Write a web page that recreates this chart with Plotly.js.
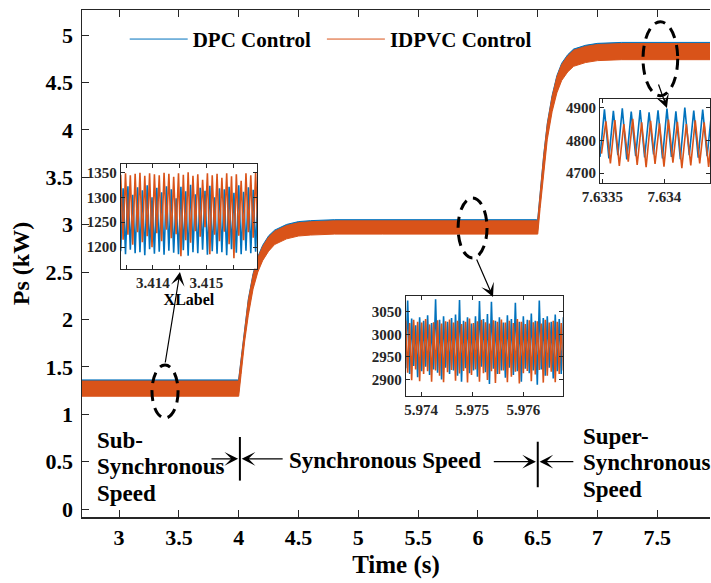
<!DOCTYPE html>
<html>
<head>
<meta charset="utf-8">
<script src="https://cdn.plot.ly/plotly-3.0.1.min.js"></script>
<style>
  html, body { margin: 0; padding: 0; background: #fff; }
  #chart { width: 711px; height: 583px; }
</style>
</head>
<body>
<div id="chart"></div>
<script>
// ---- Stator active power Ps (kW): ripple envelope of each controller ----
const tEnv   = [2.69, 3.99, 4.00, 4.02, 4.05, 4.08, 4.12, 4.16, 4.20, 4.25, 4.30, 4.40, 4.50, 4.60, 4.80, 5.20,
                6.49, 6.50, 6.52, 6.55, 6.58, 6.62, 6.66, 6.70, 6.75, 6.80, 6.90, 7.00, 7.20, 7.94];
const dpcHi  = [1.362, 1.362, 1.372, 1.592, 1.942, 2.212, 2.482, 2.662, 2.782, 2.882, 2.942, 3.002, 3.032, 3.042, 3.052, 3.052,
                3.052, 3.062, 3.342, 3.742, 4.072, 4.362, 4.572, 4.702, 4.792, 4.852, 4.892, 4.912, 4.922, 4.922];
const dpcLo  = [1.20, 1.20, 1.20, 1.43, 1.78, 2.05, 2.33, 2.51, 2.63, 2.73, 2.80, 2.86, 2.89, 2.90, 2.91, 2.91,
                2.91, 2.91, 3.18, 3.58, 3.91, 4.20, 4.40, 4.53, 4.62, 4.68, 4.72, 4.74, 4.75, 4.75];
const idpvcHi = [1.35, 1.35, 1.36, 1.58, 1.93, 2.20, 2.47, 2.65, 2.77, 2.87, 2.93, 2.99, 3.02, 3.03, 3.04, 3.04,
                 3.04, 3.05, 3.33, 3.73, 4.06, 4.35, 4.56, 4.69, 4.78, 4.84, 4.88, 4.90, 4.91, 4.91];
const idpvcLo = [1.19, 1.19, 1.19, 1.42, 1.77, 2.04, 2.32, 2.50, 2.62, 2.72, 2.79, 2.85, 2.88, 2.89, 2.90, 2.90,
                 2.90, 2.90, 3.17, 3.57, 3.90, 4.19, 4.39, 4.52, 4.61, 4.67, 4.71, 4.73, 4.74, 4.74];

// ---- Zoom 1: sub-synchronous ripple around t = 3.414 s (W) ----
const tZoom1 = [3.413400, 3.413445, 3.413490, 3.413535, 3.413580, 3.413625, 3.413670, 3.413715, 3.413760, 3.413805,
                3.413850, 3.413895, 3.413940, 3.413985, 3.414030, 3.414075, 3.414120, 3.414165, 3.414210, 3.414255,
                3.414300, 3.414345, 3.414390, 3.414435, 3.414480, 3.414525, 3.414570, 3.414615, 3.414660, 3.414705,
                3.414750, 3.414795, 3.414840, 3.414885, 3.414930, 3.414975, 3.415020, 3.415065, 3.415110, 3.415155,
                3.415200, 3.415245, 3.415290, 3.415335, 3.415380, 3.415425, 3.415470, 3.415515, 3.415560, 3.415605,
                3.415650, 3.415695, 3.415740, 3.415785, 3.415830, 3.415875, 3.415920, 3.415965];
const dpcZoom1 = [1192, 1318, 1186, 1322, 1195, 1305, 1188, 1320, 1190, 1314, 1184, 1324, 1196, 1300, 1187, 1319,
                  1191, 1310, 1185, 1322, 1193, 1316, 1189, 1298, 1186, 1321, 1194, 1312, 1183, 1325, 1190, 1306,
                  1188, 1319, 1195, 1313, 1185, 1323, 1192, 1300, 1187, 1318, 1190, 1316, 1184, 1321, 1196, 1309,
                  1189, 1324, 1186, 1311, 1193, 1320, 1188, 1315, 1191, 1319];
const idpvcZoom1 = [1345, 1215, 1348, 1225, 1344, 1205, 1347, 1230, 1349, 1210, 1343, 1222, 1348, 1200, 1346, 1228,
                    1344, 1212, 1349, 1235, 1347, 1218, 1341, 1226, 1348, 1182, 1345, 1214, 1350, 1209, 1343, 1232,
                    1346, 1221, 1335, 1240, 1348, 1186, 1344, 1225, 1347, 1212, 1339, 1231, 1348, 1206, 1342, 1178,
                    1346, 1223, 1333, 1214, 1348, 1230, 1344, 1219, 1349, 1227];

// ---- Zoom 2: synchronous ripple around t = 5.975 s (W) ----
const tZoom2 = [5.973700, 5.973739, 5.973778, 5.973817, 5.973856, 5.973895, 5.973934, 5.973973, 5.974012, 5.974051,
                5.974090, 5.974129, 5.974168, 5.974207, 5.974246, 5.974285, 5.974324, 5.974363, 5.974402, 5.974441,
                5.974480, 5.974519, 5.974558, 5.974597, 5.974636, 5.974675, 5.974714, 5.974753, 5.974792, 5.974831,
                5.974870, 5.974909, 5.974948, 5.974987, 5.975026, 5.975065, 5.975104, 5.975143, 5.975182, 5.975221,
                5.975260, 5.975299, 5.975338, 5.975377, 5.975416, 5.975455, 5.975494, 5.975533, 5.975572, 5.975611,
                5.975650, 5.975689, 5.975728, 5.975767, 5.975806, 5.975845, 5.975884, 5.975923, 5.975962, 5.976001,
                5.976040, 5.976079, 5.976118, 5.976157, 5.976196, 5.976235, 5.976274, 5.976313, 5.976352, 5.976391,
                5.976430, 5.976469, 5.976508, 5.976547, 5.976586, 5.976625, 5.976664, 5.976703, 5.976742, 5.976781];
const dpcZoom2 = [2925, 3075, 2912, 3035, 2930, 3020, 2905, 3038, 2918, 3030, 2928, 3042, 2910, 3025, 2922, 3078,
                  2915, 3032, 2900, 3040, 2926, 3028, 2912, 3036, 2920, 3044, 2908, 3076, 2895, 3030, 2925, 3038,
                  2914, 3024, 2920, 3040, 2906, 3074, 2928, 3034, 2916, 3045, 2890, 3072, 2924, 3030, 2912, 3038,
                  2920, 3026, 2904, 3042, 2926, 3034, 2910, 3070, 2918, 3028, 2895, 3040, 2924, 3032, 2914, 3046,
                  2920, 3030, 2888, 3075, 2922, 3036, 2908, 3040, 2926, 3028, 2902, 3044, 2918, 3034, 2912, 3038];
const idpvcZoom2 = [3030, 2915, 3025, 2898, 3032, 2922, 3028, 2896, 3026, 2912, 3034, 2918, 3022, 2895, 3027, 2920,
                    3031, 2908, 3024, 2894, 3029, 2916, 3033, 2921, 3026, 2897, 3030, 2913, 3023, 2919, 3028, 2893,
                    3035, 2910, 3025, 2922, 3029, 2895, 3032, 2914, 3027, 2899, 3024, 2918, 3031, 2892, 3028, 2912,
                    3033, 2920, 3026, 2894, 3030, 2906, 3025, 2917, 3034, 2891, 3028, 2914, 3023, 2919, 3031, 2896,
                    3027, 2911, 3029, 2921, 3024, 2893, 3032, 2908, 3026, 2917, 3030, 2894, 3028, 2912, 3025, 2920];

// ---- Zoom 3: super-synchronous ripple around t = 7.634 s (W) ----
const tZoom3Dpc = [7.633480, 7.633516, 7.633552, 7.633588, 7.633624, 7.633660, 7.633696, 7.633732, 7.633768,
                   7.633804, 7.633840, 7.633876, 7.633912, 7.633948, 7.633984, 7.634020, 7.634056, 7.634092,
                   7.634128, 7.634164, 7.634200, 7.634236, 7.634272, 7.634308, 7.634344, 7.634380];
const dpcZoom3 = [4750, 4895, 4745, 4890, 4755, 4898, 4742, 4888, 4752, 4893, 4748, 4886, 4757, 4892, 4745, 4897,
                  4750, 4889, 4743, 4900, 4755, 4891, 4747, 4894, 4752, 4887];
const tZoom3Idpvc = [7.633492, 7.633528, 7.633564, 7.633600, 7.633636, 7.633672, 7.633708, 7.633744, 7.633780,
                     7.633816, 7.633852, 7.633888, 7.633924, 7.633960, 7.633996, 7.634032, 7.634068, 7.634104,
                     7.634140, 7.634176, 7.634212, 7.634248, 7.634284, 7.634320, 7.634356, 7.634392];
const idpvcZoom3 = [4760, 4858, 4730, 4862, 4722, 4850, 4735, 4866, 4725, 4855, 4718, 4860, 4728, 4852, 4720, 4864,
                    4732, 4857, 4715, 4850, 4724, 4861, 4730, 4855, 4719, 4858];

const seriesNames = ['DPC Control', 'IDPVC Control'];
const BLUE = '#0072BD';
const ORANGE = '#D95319';
const INK = '#262626';
const SERIF = 'Liberation Serif, Times New Roman, serif';

const traces = [
  // main panel: ripple bands (upper edge carries the legend entry, lower edge fills up to it)
  { x: tEnv, y: dpcHi, mode: 'lines', name: seriesNames[0], legend: 'legend', line: { color: BLUE, width: 1 }, xaxis: 'x', yaxis: 'y' },
  { x: tEnv, y: dpcLo, mode: 'lines', showlegend: false, fill: 'tonexty', fillcolor: BLUE,
    line: { color: BLUE, width: 0 }, xaxis: 'x', yaxis: 'y' },
  { x: tEnv, y: idpvcHi, mode: 'lines', name: seriesNames[1], legend: 'legend2', line: { color: ORANGE, width: 1 }, xaxis: 'x', yaxis: 'y' },
  { x: tEnv, y: idpvcLo, mode: 'lines', showlegend: false, fill: 'tonexty', fillcolor: ORANGE,
    line: { color: ORANGE, width: 1 }, xaxis: 'x', yaxis: 'y' },

  // inset 1
  { x: tZoom1, y: dpcZoom1, mode: 'lines', showlegend: false, line: { color: BLUE, width: 1.6 }, xaxis: 'x2', yaxis: 'y2' },
  { x: tZoom1, y: idpvcZoom1, mode: 'lines', showlegend: false, line: { color: ORANGE, width: 1.6 }, xaxis: 'x2', yaxis: 'y2' },
  // inset 2
  { x: tZoom2, y: dpcZoom2, mode: 'lines', showlegend: false, line: { color: BLUE, width: 1.6 }, xaxis: 'x3', yaxis: 'y3' },
  { x: tZoom2, y: idpvcZoom2, mode: 'lines', showlegend: false, line: { color: ORANGE, width: 1.6 }, xaxis: 'x3', yaxis: 'y3' },
  // inset 3
  { x: tZoom3Dpc, y: dpcZoom3, mode: 'lines', showlegend: false, line: { color: BLUE, width: 1.6 }, xaxis: 'x4', yaxis: 'y4' },
  { x: tZoom3Idpvc, y: idpvcZoom3, mode: 'lines', showlegend: false, line: { color: ORANGE, width: 1.6 }, xaxis: 'x4', yaxis: 'y4' }
];

function insetAxis(extra) {
  return Object.assign({
    showline: true, linecolor: INK, linewidth: 1, mirror: 'ticks',
    ticks: 'inside', ticklen: 4, tickwidth: 1, tickcolor: INK,
    showgrid: false, zeroline: false, fixedrange: true,
    tickfont: { family: SERIF, size: 15, color: INK, weight: 'bold' }
  }, extra);
}

const boldFont = (size) => ({ family: SERIF, size: size, color: '#000', weight: 'bold' });

function legendBox(xPos) {
  return {
    orientation: 'h', x: xPos, y: 0.942, xanchor: 'left', yanchor: 'middle',
    bgcolor: 'rgba(0,0,0,0)', borderwidth: 0, font: boldFont(21), itemwidth: 58
  };
}

const arrowBase = { text: '', showarrow: true, arrowhead: 3, arrowsize: 1.9, arrowwidth: 1.2, arrowcolor: '#000',
                    xref: 'x', yref: 'y', axref: 'x', ayref: 'y', standoff: 0, startstandoff: 0 };

const layout = {
  width: 711, height: 583,
  margin: { l: 82, r: 1, t: 10, b: 66, pad: 0 },
  paper_bgcolor: '#fff', plot_bgcolor: '#fff',
  showlegend: true,
  legend: legendBox(0.068),
  legend2: legendBox(0.382),
  xaxis: {
    domain: [0, 1], range: [2.69, 7.94], tick0: 3, dtick: 0.5,
    showline: true, linecolor: INK, linewidth: 1.5, mirror: 'ticks',
    ticks: 'inside', ticklen: 7, tickwidth: 1, tickcolor: INK, ticklabelstandoff: 0,
    showgrid: false, zeroline: false,
    tickfont: boldFont(22),
    title: { text: 'Time (s)', font: boldFont(25), standoff: 6 }
  },
  yaxis: {
    domain: [0, 1], range: [-0.084, 5.264], tick0: 0, dtick: 0.5,
    showline: true, linecolor: INK, linewidth: 1.5, mirror: false,
    ticks: 'inside', ticklen: 7, tickwidth: 1, tickcolor: INK, ticklabelstandoff: 3,
    showgrid: false, zeroline: false,
    tickfont: boldFont(22),
    title: { text: 'Ps (kW)', font: boldFont(24), standoff: 9 }
  },
  xaxis2: insetAxis({ domain: [0.0616, 0.2790], anchor: 'y2', range: [3.4134, 3.41595],
                      tickvals: [3.414, 3.415], ticktext: ['3.414', '3.415'],
                      minor: { tickvals: [3.4135, 3.4145, 3.4155], ticks: 'inside', ticklen: 4, tickcolor: INK },
                      title: { text: 'XLabel', font: boldFont(16), standoff: 3 } }),
  yaxis2: insetAxis({ domain: [0.4898, 0.6957], anchor: 'x2', range: [1157, 1366], dtick: 50, tick0: 1200 }),
  xaxis3: insetAxis({ domain: [0.5154, 0.7654], anchor: 'y3', range: [5.9737, 5.97677], tick0: 5.974, dtick: 0.001 }),
  yaxis3: insetAxis({ domain: [0.2393, 0.4359], anchor: 'x3', range: [2864, 3085], tick0: 2900, dtick: 50 }),
  xaxis4: insetAxis({ domain: [0.8248, 1.0], anchor: 'y4', range: [7.63348, 7.634367],
                      tickvals: [7.6335, 7.634], ticktext: ['7.6335', '7.634'] }),
  yaxis4: insetAxis({ domain: [0.6594, 0.8235], anchor: 'x4', range: [4671, 4925], tick0: 4700, dtick: 100 }),

  shapes: [
    // dashed ellipses marking the zoomed regions
    { type: 'circle', xref: 'x', yref: 'y', x0: 3.275, x1: 3.493, y0: 0.96, y1: 1.52,
      line: { color: '#000', width: 3, dash: '11px,7px' } },
    { type: 'circle', xref: 'x', yref: 'y', x0: 5.834, x1: 6.076, y0: 2.649, y1: 3.281,
      line: { color: '#000', width: 3, dash: '11px,7px' } },
    { type: 'circle', xref: 'x', yref: 'y', x0: 7.380, x1: 7.670, y0: 4.36, y1: 5.14,
      line: { color: '#000', width: 3, dash: '11px,7px' } },
    // speed-region boundaries
    { type: 'line', xref: 'x', yref: 'y', x0: 4.01, x1: 4.01, y0: 0.30, y1: 0.76, line: { color: '#000', width: 2 } },
    { type: 'line', xref: 'x', yref: 'y', x0: 6.50, x1: 6.50, y0: 0.23, y1: 0.71, line: { color: '#000', width: 2 } }
  ],

  annotations: [
    // arrows from each ellipse to its inset
    Object.assign({}, arrowBase, { x: 3.509, y: 2.50, ax: 3.384, ay: 1.53 }),
    Object.assign({}, arrowBase, { x: 6.126, y: 2.237, ax: 5.984, ay: 2.648 }),
    Object.assign({}, arrowBase, { x: 7.580, y: 4.230, ax: 7.505, ay: 4.494 }),
    // arrows pointing at the speed boundaries
    Object.assign({}, arrowBase, { x: 3.995, y: 0.53, ax: 3.76, ay: 0.53 }),
    Object.assign({}, arrowBase, { x: 4.025, y: 0.53, ax: 4.38, ay: 0.53 }),
    Object.assign({}, arrowBase, { x: 6.485, y: 0.50, ax: 6.12, ay: 0.50 }),
    Object.assign({}, arrowBase, { x: 6.515, y: 0.50, ax: 6.81, ay: 0.50 }),

    { text: 'Sub-', x: 2.80, y: 0.728, xref: 'x', yref: 'y', xanchor: 'left', yanchor: 'middle', showarrow: false, font: boldFont(23) },
    { text: 'Synchronous', x: 2.80, y: 0.454, xref: 'x', yref: 'y', xanchor: 'left', yanchor: 'middle', showarrow: false, font: boldFont(23) },
    { text: 'Speed', x: 2.80, y: 0.159, xref: 'x', yref: 'y', xanchor: 'left', yanchor: 'middle', showarrow: false, font: boldFont(23) },
    { text: 'Synchronous Speed', x: 5.223, y: 0.517, xref: 'x', yref: 'y', xanchor: 'center', yanchor: 'middle', showarrow: false, font: boldFont(23) },
    { text: 'Super-', x: 6.862, y: 0.760, xref: 'x', yref: 'y', xanchor: 'left', yanchor: 'middle', showarrow: false, font: boldFont(23) },
    { text: 'Synchronous', x: 6.862, y: 0.486, xref: 'x', yref: 'y', xanchor: 'left', yanchor: 'middle', showarrow: false, font: boldFont(23) },
    { text: 'Speed', x: 6.862, y: 0.201, xref: 'x', yref: 'y', xanchor: 'left', yanchor: 'middle', showarrow: false, font: boldFont(23) }
  ]
};

Plotly.newPlot('chart', traces, layout, { staticPlot: true, displayModeBar: false });
</script>
</body>
</html>
